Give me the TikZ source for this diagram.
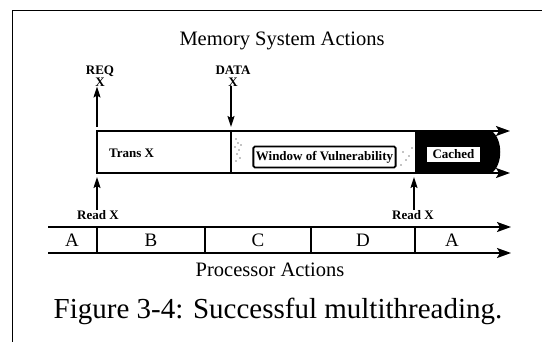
\documentclass[tikz,border=0pt]{standalone}
\usepackage{fontspec}
\setmainfont{Liberation Serif}
\usetikzlibrary{arrows.meta}
\tikzset{
  frameline/.style={line width=1pt},
  boxline/.style={line width=1.8pt},
  harrow/.style={line width=1.8pt,-{Stealth[length=14pt,width=10pt,inset=3pt]}},
  varrow/.style={line width=1.6pt,-{Stealth[length=11pt,width=7pt,inset=2pt]}},
  blabel/.style={font=\bfseries\fontsize{13}{12}\selectfont,inner sep=0pt,align=center},
  titletext/.style={font=\fontsize{20.5}{22}\selectfont,inner sep=0pt},
  letter/.style={font=\fontsize{19}{20}\selectfont,inner sep=0pt},
  captext/.style={font=\fontsize{29}{31}\selectfont,inner sep=0pt},
  divider/.style={line width=1.6pt},
  speck/.style={fill=black}
}
\begin{document}
\begin{tikzpicture}[x=1pt,y=-1pt]
\useasboundingbox (0,0) rectangle (542,341);
% frame
\draw[frameline] (12.5,345) -- (12.5,10.5) -- (545,10.5);
% title
\node[titletext] (mtitle) at (282,41) {Memory System Actions};
% memory timeline
\coordinate (mtl) at (97,131);
\coordinate (mbl) at (97,173);
\coordinate (mtr) at (510,131);
\coordinate (mbr) at (510,173);
\fill (415,131) -- (492,131) .. controls (503,140) and (503,164) .. (492,173) -- (415,173) -- cycle;
\draw[harrow] (mtl) -- (mtr);
\draw[harrow] (mbl) -- (mbr);
\draw[boxline] (97,130.1) -- (97,173.9);
\draw[boxline] (231,131) -- (231,173);
\node[blabel,anchor=west] (trans) at (109,153) {Trans X};
\node[blabel,draw,line width=1.8pt,rounded corners=1.5pt,inner xsep=2.5pt,minimum height=21pt] (window) at (324.5,157) {Window of Vulnerability};
\node[blabel,fill=white,minimum width=53pt,minimum height=15pt] (cached) at (453.5,154.5) {Cached};
% speckles
\foreach \p in {(236,139),(238,143),(235,147),(239,150),(237,154),(240,158),(236,161),(241,145),(403,152),(406,160),(409,156),(401,165),(412,148)}
  \fill[speck] \p circle (0.7pt);
% REQ and DATA
\node[blabel] (req) at (100,76) {REQ\\X};
\node[blabel] (data) at (233,76) {DATA\\X};
\coordinate (reqtail) at (97,127);
\coordinate (datahead) at (231,127);
\draw[varrow] (reqtail) -- (reqtail |- req.south);
\draw[varrow] (datahead |- data.south) -- (datahead);
% Read X
\node[blabel] (read1) at (98,215) {Read X};
\node[blabel] (read2) at (413,215) {Read X};
\coordinate (r1head) at (97,177);
\coordinate (r2head) at (414,177);
\draw[varrow] (r1head |- read1.north) -- (r1head);
\draw[varrow] (r2head |- read2.north) -- (r2head);
% processor timeline
\coordinate (ptl) at (48,227);
\coordinate (ptr) at (511,227);
\coordinate (pbl) at (48,253);
\coordinate (pbr) at (511,253);
\draw[harrow] (ptl) -- (ptr);
\draw[harrow] (pbl) -- (pbr);
\foreach \x in {97,205,311,415} \draw[divider] (\x,227) -- (\x,253);
\node[letter] (pa1) at (72,240) {A};
\node[letter] (pb) at (151,240) {B};
\node[letter] (pc) at (258,240) {C};
\node[letter] (pd) at (363,240) {D};
\node[letter] (pa2) at (452,240) {A};
\node[titletext] (ptitle) at (270,270) {Processor Actions};
% caption
\node[captext] (caption) at (278,311) {Figure 3-4: Successful multithreading.};
\end{tikzpicture}
\end{document}
